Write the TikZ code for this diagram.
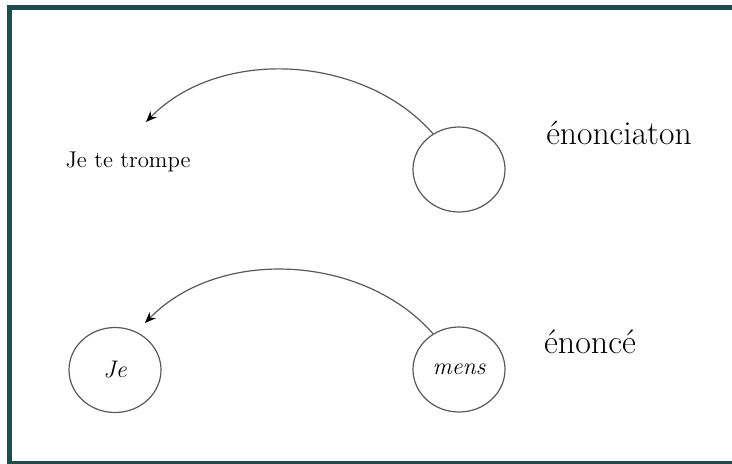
\documentclass[tikz,border=0pt]{standalone}
\usepackage{fontspec}
\usepackage{tikz}
\usetikzlibrary{arrows.meta, shapes.geometric}
\tikzset{>={Stealth[length=5.5pt,width=4.4pt,black]}}
\definecolor{cadre}{RGB}{32,78,76}
\begin{document}
\begin{tikzpicture}[x=0.5pt, y=0.5pt,
    rond/.style={ellipse, draw=black!65, line width=0.6pt, minimum width=46pt, minimum height=42.5pt, inner sep=0pt},
    fleche/.style={->, draw=black!65, line width=0.6pt}]
    \clip(0,0)rectangle(732,463);
    \draw[cadre, line width=2.6pt](9.8,-1)rectangle(745,455.5);
    
    \node[rond](haut) at (459,293.5){};
    \node[rond](je) at (115,93){\fontsize{12}{14}\selectfont\itshape Je};
    \node[rond](mens) at (459,93.5){\fontsize{12}{14}\selectfont\itshape mens};
    \node(enonciation) at (619,330){\fontsize{16.8}{20}\selectfont énonciaton};
    \node(enonce) at (590,121){\fontsize{17}{20}\selectfont énoncé};
    \node(trompe) at (128,301){\fontsize{11.4}{14}\selectfont Je te trompe};
    
    \coordinate(pointeA) at (146,341);
    \coordinate(pointeB) at (145,140);
    \draw[fleche](haut.126)..controls(363,409)and(219,416)..(pointeA);
    \draw[fleche](mens.126)..controls(363,209)and(219,216)..(pointeB);
\end{tikzpicture}
\end{document}
